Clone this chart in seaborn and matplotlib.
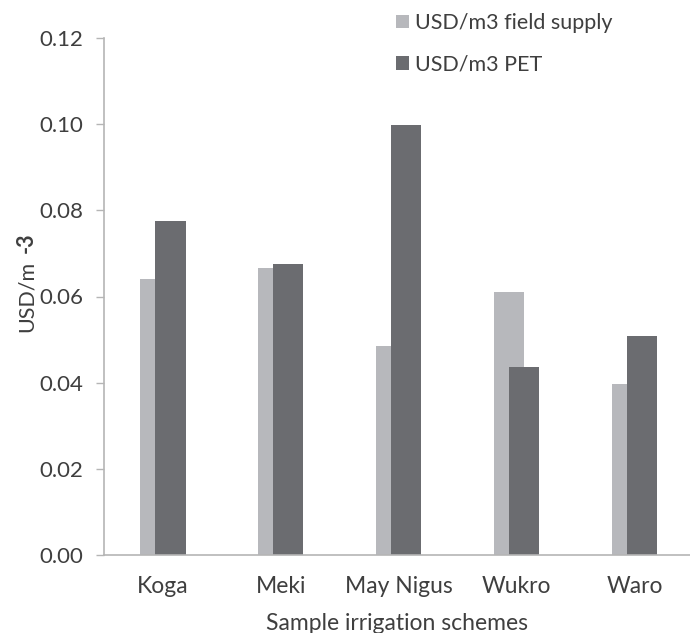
import numpy as np
import pandas as pd
import matplotlib
matplotlib.use("Agg")
import matplotlib.pyplot as plt
import seaborn as sns

schemes = ["Koga", "Meki", "May Nigus", "Wukro", "Waro"]
field_supply = [0.0641, 0.0666, 0.0485, 0.0610, 0.0398]
pet = [0.0775, 0.0675, 0.0998, 0.0436, 0.0508]
y_ticks = [0.00, 0.02, 0.04, 0.06, 0.08, 0.10, 0.12]
series_names = ["USD/m3 field supply", "USD/m3 PET"]

LIGHT = "#b7b8bc"
DARK = "#6b6c70"
TEXT = "#3f3f3f"
AXIS = "#b5b5b5"

sns.set_theme(style="white")
plt.rcParams["font.family"] = ["Lato", "DejaVu Sans"]

fig = plt.figure(figsize=(6.9, 6.33), dpi=100)
ax = fig.add_axes([104 / 690, 78 / 633, 1 - 104 / 690, 517 / 633])

idx = np.arange(len(schemes))
bar_w = 0.255
shift = 0.064  # bars overlap by half their width
df_light = pd.DataFrame({"pos": idx - shift, "value": field_supply})
df_dark = pd.DataFrame({"pos": idx + shift, "value": pet})

sns.barplot(data=df_light, x="pos", y="value", native_scale=True,
            width=bar_w, color=LIGHT, saturation=1, linewidth=0, ax=ax,
            label=series_names[0])
sns.barplot(data=df_dark, x="pos", y="value", native_scale=True,
            width=bar_w, color=DARK, saturation=1, linewidth=0, ax=ax,
            label=series_names[1])

ax.set_xlim(-0.5, len(schemes) - 0.5 - 0.03)
ax.set_ylim(0, 0.12)
ax.set_xticks(idx)
ax.set_xticklabels(schemes)
ax.set_yticks(y_ticks)
ax.set_yticklabels([f"{v:.2f}" for v in y_ticks])

for side in ["top", "right"]:
    ax.spines[side].set_visible(False)
for side in ["left", "bottom"]:
    ax.spines[side].set_color(AXIS)
    ax.spines[side].set_linewidth(1.2)

ax.tick_params(axis="y", which="both", left=True, length=6, width=1.0,
               color=AXIS, pad=9, labelsize=16, labelcolor=TEXT)
ax.tick_params(axis="x", length=0, pad=15, labelsize=16.5, labelcolor=TEXT)

ax.set_xlabel("Sample irrigation schemes", fontsize=16.5, color=TEXT, labelpad=12)
ax.set_ylabel("USD/m", fontsize=15.5, color=TEXT, labelpad=2)
fig.canvas.draw()
# bold exponent placed right after the axis label text
ax.annotate("-3", xy=(0.5, 1.0), xycoords=ax.yaxis.label,
            xytext=(0, 6), textcoords="offset points",
            rotation=90, ha="center", va="bottom",
            fontsize=15.5, fontweight="bold", color=TEXT)

leg = ax.legend(loc="upper left", bbox_to_anchor=(396 / 690, 1 - 13 / 633),
                bbox_transform=fig.transFigure, frameon=False, fontsize=15.5,
                handlelength=0.6, handleheight=0.6, handletextpad=0.3,
                labelspacing=1.0, borderpad=0, borderaxespad=0)
for t in leg.get_texts():
    t.set_color(TEXT)

fig.savefig("out.png", dpi=100)
